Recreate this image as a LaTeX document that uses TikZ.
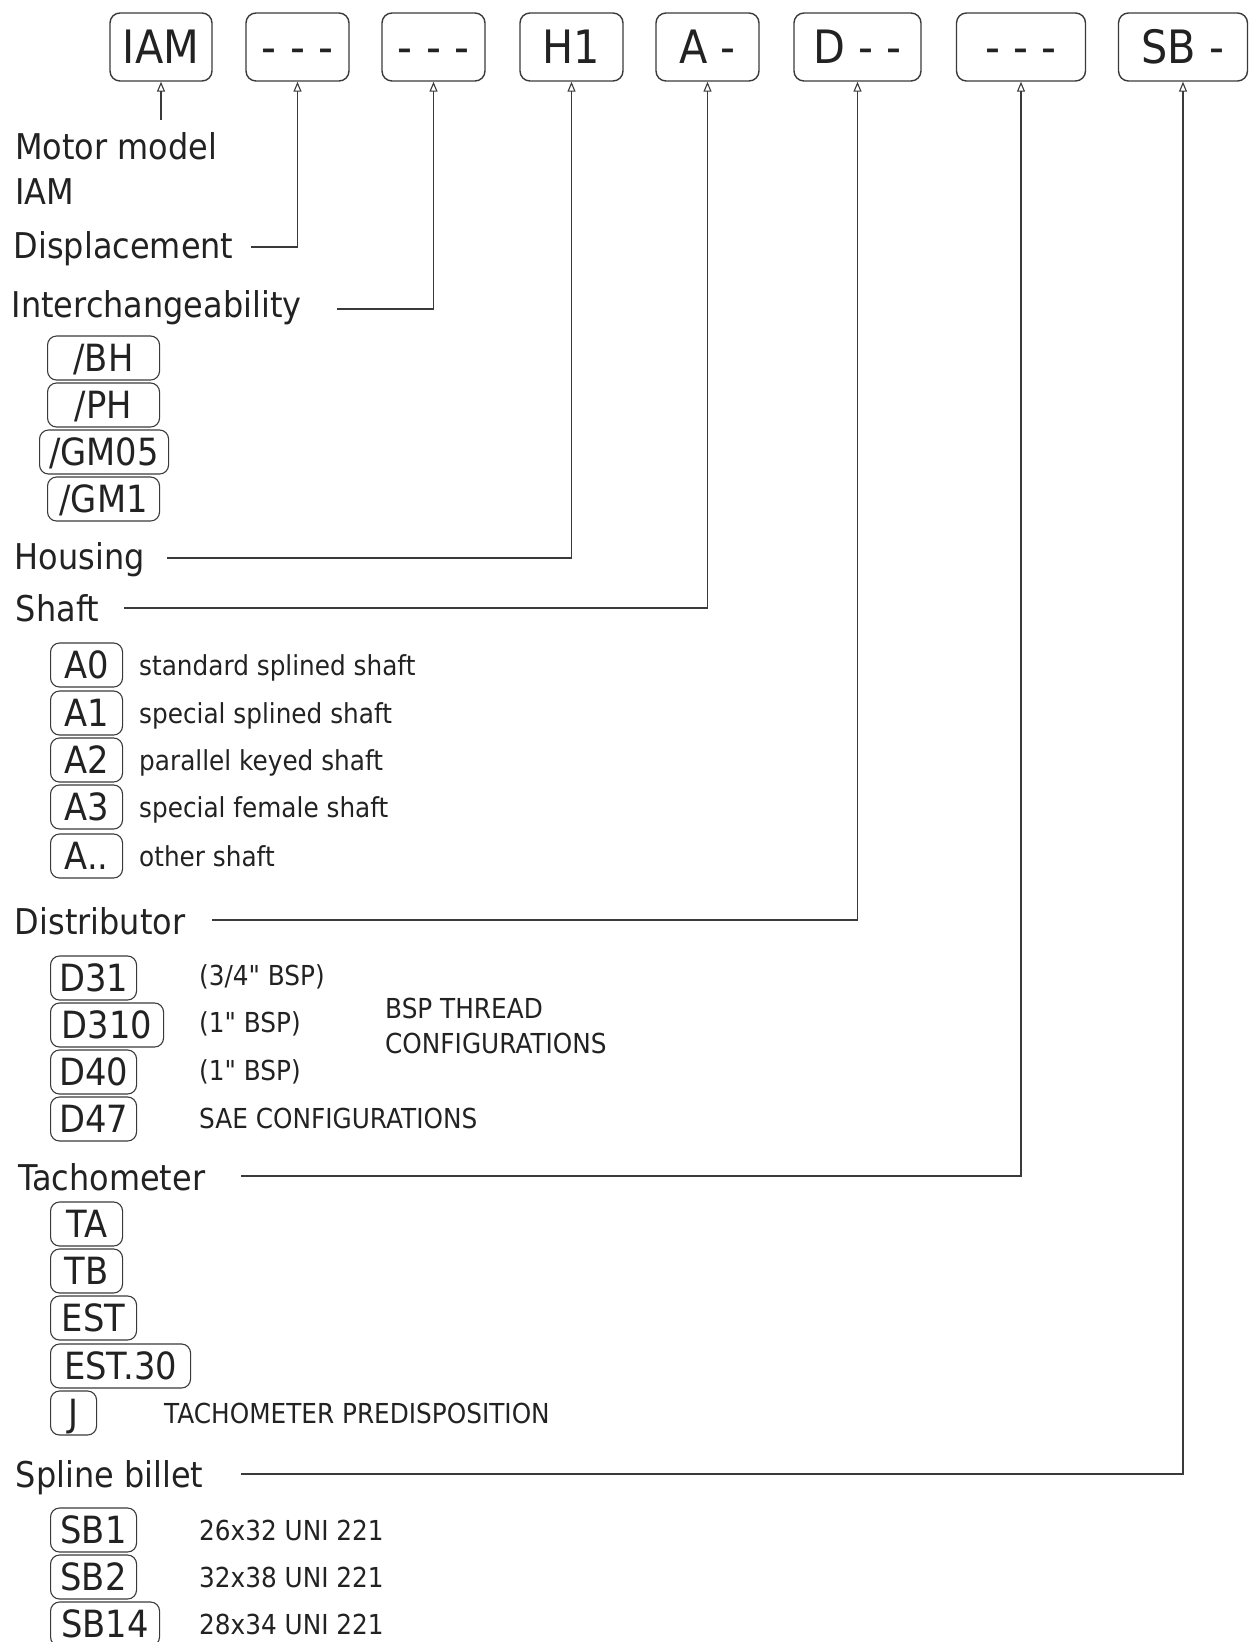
\documentclass[tikz,border=0pt]{standalone}
\usepackage{fontspec}
\setmainfont{DejaVu Sans}[FakeStretch=0.9, Ligatures=TeXOff]
\usetikzlibrary{arrows.meta}
\definecolor{linec}{HTML}{3A3A3A}
\definecolor{txtc}{HTML}{222222}
\tikzset{
  topbox/.style={draw=linec, line width=1.4pt, rounded corners=10pt, minimum height=68pt, inner sep=0pt, text=txtc, text height=33.5pt, text depth=0pt, font=\fontsize{46}{50}\selectfont},
  optbox/.style={draw=linec, line width=1.1pt, rounded corners=9pt, minimum height=44pt, inner sep=0pt, anchor=west, text=txtc, text height=27pt, text depth=0pt, font=\fontsize{37.5}{40}\selectfont},
  head/.style={anchor=base west, inner sep=0pt, text=txtc, font=\fontsize{35.5}{40}\selectfont},
  desc/.style={anchor=base west, inner sep=0pt, text=txtc, font=\fontsize{27.5}{30}\selectfont},
  conn/.style={draw=linec, line width=1.1pt, -{Triangle[open, length=10pt, width=8pt]}}
}
\begin{document}
\begin{tikzpicture}[x=1pt,y=-1pt]
\useasboundingbox (0,0) rectangle (1250,1642);
% top row
\node[topbox, minimum width=102pt] (iam) at (161,47) {IAM};
\node[topbox, minimum width=103pt] (b2) at (297.5,47) {- - -};
\node[topbox, minimum width=103pt] (b3) at (433.5,47) {- - -};
\node[topbox, minimum width=103pt] (h1) at (571.5,47) {H1};
\node[topbox, minimum width=103pt] (ab) at (707.5,47) {A -};
\node[topbox, minimum width=127pt] (db) at (857.5,47) {D - -};
\node[topbox, minimum width=129pt] (tb) at (1021,47) {- - -};
\node[topbox, minimum width=129pt] (sbb) at (1183,47) {SB -};
% headings
\node[head] (mm) at (15,159) {Motor model};
\node[head] (mmiam) at (15,204) {IAM};
\node[head] (disp) at (13.6,258.5) {Displacement};
\node[head] (inter) at (11.5,317) {Interchangeability};
\node[head] (hous) at (14.7,569) {Housing};
\node[head] (shaft) at (15.7,621) {Shaft};
\node[head] (distr) at (14.7,934) {Distributor};
\node[head] (tacho) at (17.8,1190) {Tachometer};
\node[head] (spline) at (15.7,1487) {Spline billet};
% connectors
\coordinate (mmE) at (161,120);
\coordinate (dispE) at (251,247);
\coordinate (interE) at (337,309);
\coordinate (housE) at (167,558);
\coordinate (shaftE) at (124,608);
\coordinate (distrE) at (212,920);
\coordinate (tachoE) at (241,1176);
\coordinate (splineE) at (241,1474);
\draw[conn] (mmE) -- (iam.south);
\draw[conn] (dispE) -| (b2.south);
\draw[conn] (interE) -| (b3.south);
\draw[conn] (housE) -| (h1.south);
\draw[conn] (shaftE) -| (ab.south);
\draw[conn] (distrE) -| (db.south);
\draw[conn] (tachoE) -| (tb.south);
\draw[conn] (splineE) -| (sbb.south);
% interchangeability options
\node[optbox, minimum width=112pt] (bh) at (47,358) {/BH};
\node[optbox, minimum width=112pt] (ph) at (47,405) {/PH};
\node[optbox, minimum width=129pt] (gm05) at (39,452) {/GM05};
\node[optbox, minimum width=112pt] (gm1) at (47,499) {/GM1};
% shaft options
\node[optbox, minimum width=72pt] (a0) at (50,665) {A0};
\node[optbox, minimum width=72pt] (a1) at (50,713) {A1};
\node[optbox, minimum width=72pt] (a2) at (50,760) {A2};
\node[optbox, minimum width=72pt] (a3) at (50,807) {A3};
\node[optbox, minimum width=72pt] (ax) at (50,856) {A..};
\node[desc] (a0d) at (139,675) {standard splined shaft};
\node[desc] (a1d) at (139,723) {special splined shaft};
\node[desc] (a2d) at (139,770) {parallel keyed shaft};
\node[desc] (a3d) at (139,817) {special female shaft};
\node[desc] (axd) at (139,866) {other shaft};
% distributor options
\node[optbox, minimum width=86pt] (d31) at (50,978) {D31};
\node[optbox, minimum width=113pt] (d310) at (50,1025) {D310};
\node[optbox, minimum width=86pt] (d40) at (50,1072) {D40};
\node[optbox, minimum width=86pt] (d47) at (50,1119) {D47};
\node[desc] (d31d) at (199,985) {(3/4" BSP)};
\node[desc] (d310d) at (199,1032) {(1" BSP)};
\node[desc] (d40d) at (199,1080) {(1" BSP)};
\node[desc] (d47d) at (199,1128) {SAE CONFIGURATIONS};
\node[desc] (bsp1) at (385,1018) {BSP THREAD};
\node[desc] (bsp2) at (385,1053) {CONFIGURATIONS};
% tachometer options
\node[optbox, minimum width=72pt] (ta) at (50,1224) {TA};
\node[optbox, minimum width=72pt] (tbx) at (50,1271) {TB};
\node[optbox, minimum width=86pt] (est) at (50,1318) {EST};
\node[optbox, minimum width=140pt] (est30) at (50,1366) {EST.30};
\node[optbox, minimum width=46pt] (j) at (50,1413) {J};
\node[desc] (jd) at (164,1423) {TACHOMETER PREDISPOSITION};
% spline billet options
\node[optbox, minimum width=86pt] (sb1) at (50,1530) {SB1};
\node[optbox, minimum width=86pt] (sb2) at (50,1577) {SB2};
\node[optbox, minimum width=109pt] (sb14) at (50,1624) {SB14};
\node[desc] (sb1d) at (199,1540) {26x32 UNI 221};
\node[desc] (sb2d) at (199,1587) {32x38 UNI 221};
\node[desc] (sb14d) at (199,1634) {28x34 UNI 221};
\end{tikzpicture}
\end{document}
